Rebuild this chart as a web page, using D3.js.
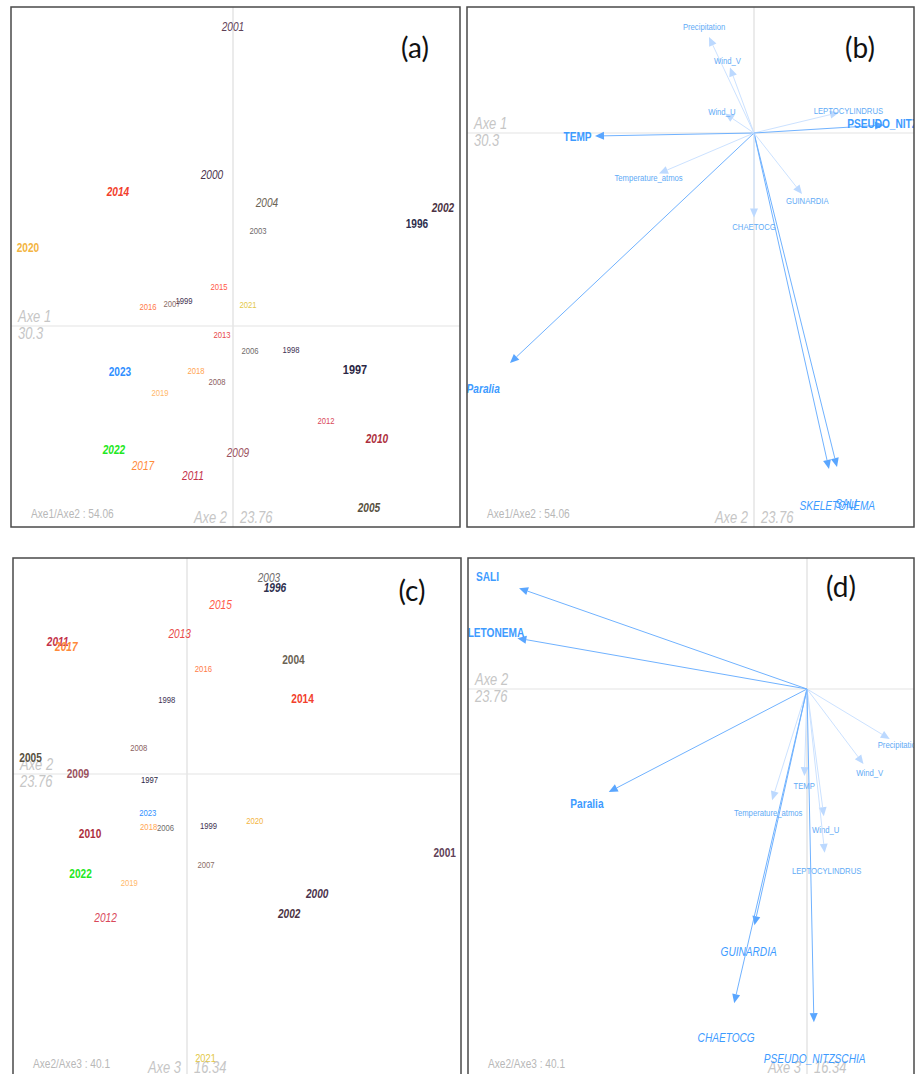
<!DOCTYPE html>
<html>
<head>
<meta charset="utf-8">
<script src="https://cdn.jsdelivr.net/npm/d3@7"></script>
<style>
body { margin: 0; background: #fff; }
text { font-family: "Liberation Sans", Arial, sans-serif; }
</style>
</head>
<body>
<div id="chart"></div>
<script>
// ---- data ----
var years = [1996, 1997, 1998, 1999, 2000, 2001, 2002, 2003, 2004, 2005, 2006, 2007, 2008, 2009,
             2010, 2011, 2012, 2013, 2014, 2015, 2016, 2017, 2018, 2019, 2020, 2021, 2022, 2023];

// year scores on the three axes
var axe1 = [3.68, 2.44, 1.16, -0.98, -0.42, 0.00, 4.20, 0.50, 0.68, 2.72, 0.34, -1.22, -0.32, 0.10,
            2.88, -0.80, 1.86, -0.22, -2.30, -0.28, -1.70, -1.80, -0.74, -1.46, -4.10, 0.30, -2.38, -2.26];
var axe2 = [2.04, -0.87, -0.47, 0.50, 3.02, 5.98, 2.37, 1.90, 2.47, -3.63, -0.50, 0.44, -1.12, -2.53,
            -2.25, -3.00, -1.89, -0.17, 2.68, 0.78, 0.38, -2.80, -0.89, -1.34, 1.57, 0.43, -2.47, -0.91];
var axe3 = [4.32, -0.12, 1.72, -1.21, -2.78, -1.83, -3.25, 4.55, 2.65, 0.39, -1.25, -2.11, 0.60, 0.00,
            -1.39, 3.06, -3.34, 3.25, 1.74, 3.94, 2.44, 2.95, -1.23, -2.53, -1.09, -6.59, -2.32, -0.90];

var yearColors = ["#2e2f4e", "#2b2744", "#3e3354", "#413250", "#4b334c", "#5f4257", "#4c3344", "#6e6a6a",
                  "#6b6354", "#585040", "#6f6c6a", "#8a6e66", "#8c5f5f", "#9b5260", "#ad2f3d", "#c4324a",
                  "#d9485a", "#e84a4a", "#f2402c", "#ff5a48", "#ff7a48", "#ff8a3a", "#ffa552", "#ffb86a",
                  "#f3b441", "#e3c847", "#22e822", "#2f8fff"];

// label styles for years: s small, n normal, i italic, b bold, B big bold, bi bold italic
var yearStyleA = ["b", "B", "s", "s", "i", "i", "bi", "s", "i", "bi", "s", "s", "s", "i",
                  "bi", "i", "s", "s", "bi", "s", "s", "i", "s", "s", "b", "s", "bi", "b"];
var yearStyleC = ["bi", "s", "s", "s", "bi", "b", "bi", "i", "b", "b", "s", "s", "s", "b",
                  "b", "bi", "i", "i", "b", "i", "s", "bi", "s", "s", "s", "n", "b", "s"];

var variables = ["TEMP", "SALI", "Precipitation", "Wind_U", "Wind_V", "Temperature_atmos", "Paralia",
                 "SKELETONEMA", "GUINARDIA", "CHAETOCG", "LEPTOCYLINDRUS", "PSEUDO_NITZSCHIA"];
var varAxe1 = [-3.18, 1.66, -0.90, -0.58, -0.48, -1.90, -4.88, 1.50, 0.96, 0.00, 1.70, 2.60];
var varAxe2 = [-0.06, -6.68, 1.92, 0.39, 1.31, -0.81, -4.60, -6.72, -1.22, -1.69, 0.41, 0.16];
var varAxe3 = [-2.02, 2.34, -1.16, -2.95, -1.74, -2.58, -2.39, 1.18, -5.48, -7.29, -3.80, -7.73];

// f = faint small label, others as above
var varStyleB = ["b", "i", "f", "f", "f", "f", "bi", "i", "f", "f", "f", "b"];
var varStyleD = ["f", "b", "f", "f", "f", "f", "b", "b", "i", "i", "f", "i"];

var axisNames = ["Axe 1", "Axe 2", "Axe 3"];
var inertia = [30.3, 23.76, 16.34];

// ---- layout ----
var W = 917, H = 1074;
var sx = 0.81; // the original figure is squeezed horizontally
var fonts = {
  s: [9.5, "normal", "normal"], n: [11.5, "normal", "normal"], i: [12.5, "normal", "italic"],
  b: [12.5, "bold", "normal"], B: [13.5, "bold", "normal"], bi: [12.5, "bold", "italic"],
  f: [9.5, "normal", "normal"]
};

var panels = [
  {tag: "(a)", tagPos: [415, 58], box: [11, 7, 449, 520], origin: [233, 326], unit: 50,
   h: 0, v: 1, kind: "label", xs: axe1, ys: axe2, styles: yearStyleA},
  {tag: "(b)", tagPos: [860, 58], box: [467, 7, 447, 520], origin: [754, 133], unit: 50,
   h: 0, v: 1, kind: "arrow", xs: varAxe1, ys: varAxe2, styles: varStyleB},
  {tag: "(c)", tagPos: [412, 601], box: [13, 558, 448, 519], origin: [187, 774], unit: 43.1,
   h: 1, v: 2, kind: "label", xs: axe2, ys: axe3, styles: yearStyleC},
  {tag: "(d)", tagPos: [841, 597], box: [468, 558, 446, 519], origin: [807, 689], unit: 43.1,
   h: 1, v: 2, kind: "arrow", xs: varAxe2, ys: varAxe3, styles: varStyleD}
];

var svg = d3.select("#chart").append("svg")
  .attr("width", W)
  .attr("height", H);

function addText(g, x, y, str, size, weight, style, color, anchor, dy) {
  return g.append("text")
    .attr("transform", "translate(" + x + "," + y + ") scale(" + sx + ",1)")
    .attr("text-anchor", anchor || "middle")
    .attr("dy", dy == null ? "0.35em" : dy)
    .style("font-size", size + "px")
    .style("font-weight", weight)
    .style("font-style", style)
    .style("fill", color)
    .text(str);
}

panels.forEach(function(p, k) {
  var bx = p.box[0], by = p.box[1], bw = p.box[2], bh = p.box[3];
  var ox = p.origin[0], oy = p.origin[1];

  var x = d3.scaleLinear()
    .domain([(bx - ox) / p.unit, (bx + bw - ox) / p.unit])
    .range([bx, bx + bw]);
  var y = d3.scaleLinear()
    .domain([(oy - by - bh) / p.unit, (oy - by) / p.unit])
    .range([by + bh, by]);

  svg.append("clipPath").attr("id", "clip" + k)
    .append("rect").attr("x", bx).attr("y", by).attr("width", bw).attr("height", bh);

  var g = svg.append("g").attr("clip-path", "url(#clip" + k + ")");

  // axis cross
  g.append("line")
    .attr("x1", bx).attr("x2", bx + bw)
    .attr("y1", y(0)).attr("y2", y(0))
    .style("stroke", "#e4e4e4").style("stroke-width", 1.2);
  g.append("line")
    .attr("x1", x(0)).attr("x2", x(0))
    .attr("y1", by).attr("y2", by + bh)
    .style("stroke", "#e4e4e4").style("stroke-width", 1.5);

  // axis names and inertia
  addText(g, bx + 7, y(0) - 4, axisNames[p.h], 16, "normal", "italic", "#c6c6c6", "start", 0);
  addText(g, bx + 7, y(0) + 13, String(inertia[p.h]), 16, "normal", "italic", "#c6c6c6", "start", 0);
  addText(g, x(0) - 6, by + bh - 4, axisNames[p.v], 16, "normal", "italic", "#c6c6c6", "end", 0);
  addText(g, x(0) + 7, by + bh - 4, String(inertia[p.v]), 16, "normal", "italic", "#c6c6c6", "start", 0);
  var total = +(inertia[p.h] + inertia[p.v]).toFixed(2);
  addText(g, bx + 20, by + bh - 9,
    axisNames[p.h].replace(" ", "") + "/" + axisNames[p.v].replace(" ", "") + " : " + total,
    12.5, "normal", "normal", "#b8b8b8", "start", 0);

  if (p.kind === "label") {
    years.forEach(function(yr, i) {
      var f = fonts[p.styles[i]];
      addText(g, x(p.xs[i]), y(p.ys[i]), yr, f[0], f[1], f[2], yearColors[i]);
    });
  } else {
    variables.forEach(function(v, i) {
      var faint = p.styles[i] === "f";
      var x0 = x(0), y0 = y(0), x1 = x(p.xs[i]), y1 = y(p.ys[i]);
      var dx = x1 - x0, dy = y1 - y0, len = Math.sqrt(dx * dx + dy * dy);
      var ux = dx / len, uy = dy / len;
      var bxh = x1 - ux * 9, byh = y1 - uy * 9;
      g.append("line")
        .attr("x1", x0).attr("y1", y0).attr("x2", bxh).attr("y2", byh)
        .style("stroke", faint ? "#cce2ff" : "#70b2ff")
        .style("stroke-width", 1);
      g.append("path")
        .attr("d", d3.line()([[x1, y1], [bxh - uy * 4, byh + ux * 4], [bxh + uy * 4, byh - ux * 4]]) + "Z")
        .style("fill", faint ? "#bcd9ff" : "#5aa6ff");
      var f = fonts[p.styles[i]];
      addText(g, x(p.xs[i] * 1.11), y(p.ys[i] * 1.11), v, faint ? 9.5 : 12.5, f[1], f[2],
        faint ? "#62abf6" : "#3d9bff");
    });
  }

  // frame
  svg.append("rect")
    .attr("x", bx).attr("y", by).attr("width", bw).attr("height", bh)
    .style("fill", "none").style("stroke", "#4a4a4a").style("stroke-width", 1.5);

  svg.append("text")
    .attr("x", p.tagPos[0]).attr("y", p.tagPos[1])
    .attr("text-anchor", "middle")
    .style("font-family", "Lato, 'Open Sans', sans-serif")
    .style("font-size", "28px")
    .style("fill", "#111")
    .text(p.tag);
});
</script>
</body>
</html>
